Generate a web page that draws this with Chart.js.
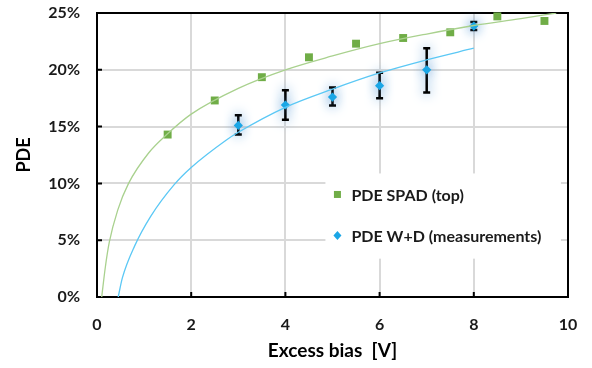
<!DOCTYPE html>
<html>
<head>
<meta charset="utf-8">
<script src="https://cdn.jsdelivr.net/npm/chart.js@4.4.1/dist/chart.umd.min.js"></script>
<style>
  html, body { margin: 0; padding: 0; background: #fff; }
  #wrap { width: 592px; height: 368px; }
</style>
</head>
<body>
<div id="wrap"><canvas id="pdeChart" width="592" height="368"></canvas></div>
<script>
// PDE SPAD (top) - green squares
const spadBias = [1.5, 2.5, 3.5, 4.5, 5.5, 6.5, 7.5, 8.5, 9.5];
const spadPde = [14.3, 17.3, 19.35, 21.1, 22.3, 22.8, 23.3, 24.7, 24.3];

// PDE W+D (measurements) - blue diamonds with error bars
const measBias = [3, 4, 5, 6, 7, 8];
const measPde = [15.1, 16.9, 17.6, 18.6, 20.0, 23.85];
const measHigh = [16.0, 18.2, 18.45, 19.75, 21.9, 24.2];
const measLow = [14.3, 15.6, 16.85, 17.5, 18.0, 23.5];

// trend curves
const spadFitBias = [0.1, 0.176, 0.26, 0.44, 0.67, 1.1, 1.48, 2, 3, 4, 5, 6, 7, 8, 9, 9.75];
const spadFitPde = [0, 2.6, 4.8, 7.65, 10, 12.7, 14.3, 16.1, 18.37, 20.0, 21.22, 22.3, 23.15, 23.9, 24.5, 25];
const measFitBias = [0.45, 0.54, 0.8, 1.14, 1.63, 2, 2.74, 3, 4, 5, 6, 7, 8];
const measFitPde = [0, 1.7, 4.5, 7.1, 9.85, 11.4, 13.8, 14.5, 16.7, 18.3, 19.72, 20.88, 21.9];

const xTicks = [0, 2, 4, 6, 8, 10];
const yTicks = [0, 5, 10, 15, 20, 25];

const FONT = "Lato, 'Open Sans', sans-serif";
const green = "#70ad47";
const greenLine = "#a9d18e";
const blue = "#1aa6e6";
const blueLine = "#5bc8f5";
const glow = "rgba(91, 155, 213, 1)";

const toPoints = (xs, ys) => xs.map((x, i) => ({ x: x, y: ys[i] }));

// frame + inward tick marks
const plotFrame = {
    id: "plotFrame",
    beforeDatasetsDraw(chart) {
        const ctx = chart.ctx;
        const a = chart.chartArea;
        const sx = chart.scales.x;
        const sy = chart.scales.y;
        ctx.save();
        ctx.strokeStyle = "#000";
        ctx.lineWidth = 2;
        ctx.strokeRect(a.left, a.top, a.right - a.left, a.bottom - a.top);
        ctx.beginPath();
        xTicks.forEach(v => {
            const px = sx.getPixelForValue(v);
            ctx.moveTo(px, a.bottom);
            ctx.lineTo(px, a.bottom - 5);
        });
        yTicks.forEach(v => {
            const py = sy.getPixelForValue(v);
            ctx.moveTo(a.left, py);
            ctx.lineTo(a.left + 5, py);
        });
        ctx.stroke();
        ctx.restore();
    }
};

// error bars and glow for the measurement series
const errorBars = {
    id: "errorBars",
    beforeDatasetDraw(chart, args) {
        if (args.index !== 3) return;
        const ctx = chart.ctx;
        const sx = chart.scales.x;
        const sy = chart.scales.y;
        ctx.save();
        ctx.shadowColor = glow;
        ctx.shadowBlur = 12;
        ctx.strokeStyle = "#000";
        ctx.lineWidth = 2.5;
        measBias.forEach((b, i) => {
            const px = sx.getPixelForValue(b);
            const top = sy.getPixelForValue(measHigh[i]);
            const bot = sy.getPixelForValue(measLow[i]);
            ctx.beginPath();
            ctx.moveTo(px, top);
            ctx.lineTo(px, bot);
            ctx.moveTo(px - 3.5, top);
            ctx.lineTo(px + 3.5, top);
            ctx.moveTo(px - 3.5, bot);
            ctx.lineTo(px + 3.5, bot);
            ctx.stroke();
        });
        ctx.restore();
        ctx.save();
        ctx.shadowColor = glow;
        ctx.shadowBlur = 12;
    },
    afterDatasetDraw(chart, args) {
        if (args.index === 3) chart.ctx.restore();
    }
};

// legend drawn inside the plot area
const innerLegend = {
    id: "innerLegend",
    afterDatasetsDraw(chart) {
        const ctx = chart.ctx;
        const a = chart.chartArea;
        const w = a.right - a.left;
        const h = a.bottom - a.top;
        const bx = a.left + w * 0.485;
        const by = a.top + h * 0.565;
        ctx.save();
        ctx.fillStyle = "#fff";
        ctx.fillRect(bx, by, w * 0.5, h * 0.3);
        ctx.font = "bold 16px " + FONT;
        ctx.textBaseline = "middle";
        ctx.textAlign = "left";
        const items = [chart.data.datasets[2], chart.data.datasets[3]];
        items.forEach((ds, i) => {
            const mx = bx + 12;
            const my = by + 21 + i * 41;
            ctx.fillStyle = ds.backgroundColor;
            if (ds.pointStyle === "rect") {
                ctx.fillRect(mx - 3.5, my - 3.5, 7, 7);
            } else {
                ctx.beginPath();
                ctx.moveTo(mx, my - 4.5);
                ctx.lineTo(mx + 4, my);
                ctx.lineTo(mx, my + 4.5);
                ctx.lineTo(mx - 4, my);
                ctx.closePath();
                ctx.fill();
            }
            ctx.fillStyle = "#1a1a1a";
            ctx.fillText(ds.label, mx + 14, my + 1);
        });
        ctx.restore();
    }
};

new Chart(
    document.getElementById("pdeChart"),
    {
        type: "scatter",

        data: {
            datasets: [
                {
                    label: "SPAD fit",
                    data: toPoints(spadFitBias, spadFitPde),
                    showLine: true,
                    borderColor: greenLine,
                    borderWidth: 1.3,
                    pointRadius: 0,
                    cubicInterpolationMode: "monotone"
                },
                {
                    label: "W+D fit",
                    data: toPoints(measFitBias, measFitPde),
                    showLine: true,
                    borderColor: blueLine,
                    borderWidth: 1.3,
                    pointRadius: 0,
                    cubicInterpolationMode: "monotone"
                },
                {
                    label: "PDE SPAD (top)",
                    data: toPoints(spadBias, spadPde),
                    pointStyle: "rect",
                    pointRadius: 5.6,
                    backgroundColor: green,
                    borderColor: green,
                    borderWidth: 0,
                    clip: false
                },
                {
                    label: "PDE W+D (measurements)",
                    data: toPoints(measBias, measPde),
                    pointStyle: "rectRot",
                    pointRadius: 4.6,
                    backgroundColor: blue,
                    borderColor: blue,
                    borderWidth: 0,
                    clip: false
                }
            ]
        },

        options: {
            responsive: false,
            animation: false,
            layout: {
                padding: { top: 13, right: 24, left: 0, bottom: 0 }
            },
            plugins: {
                legend: { display: false },
                tooltip: { enabled: false }
            },
            scales: {
                x: {
                    type: "linear",
                    min: 0,
                    max: 10,
                    afterBuildTicks: s => { s.ticks = xTicks.map(v => ({ value: v })); },
                    afterFit: s => { s.height = 71; },
                    grid: {
                        color: "#d9d9d9",
                        lineWidth: 2,
                        drawTicks: true,
                        tickLength: 18,
                        tickColor: "rgba(0,0,0,0)"
                    },
                    border: { display: false },
                    ticks: {
                        padding: 0,
                        color: "#1a1a1a",
                        font: { family: FONT, size: 16, weight: "bold" }
                    },
                    title: {
                        display: true,
                        text: "Excess bias  [V]",
                        color: "#000",
                        padding: { top: 6, bottom: 6 },
                        font: { family: FONT, size: 19, weight: "bold" }
                    }
                },
                y: {
                    type: "linear",
                    min: 0,
                    max: 25,
                    afterBuildTicks: s => { s.ticks = yTicks.map(v => ({ value: v })); },
                    afterFit: s => { s.width = 97; },
                    grid: {
                        color: "#d9d9d9",
                        lineWidth: 2,
                        drawTicks: true,
                        tickLength: 17,
                        tickColor: "rgba(0,0,0,0)"
                    },
                    border: { display: false },
                    ticks: {
                        padding: 0,
                        color: "#1a1a1a",
                        font: { family: FONT, size: 16, weight: "bold" },
                        callback: v => v + "%"
                    },
                    title: {
                        display: true,
                        text: "PDE",
                        color: "#000",
                        padding: { top: 13, bottom: 0 },
                        font: { family: FONT, size: 18, weight: "bold" }
                    }
                }
            }
        },

        plugins: [plotFrame, errorBars, innerLegend]
    }
);
</script>
</body>
</html>
